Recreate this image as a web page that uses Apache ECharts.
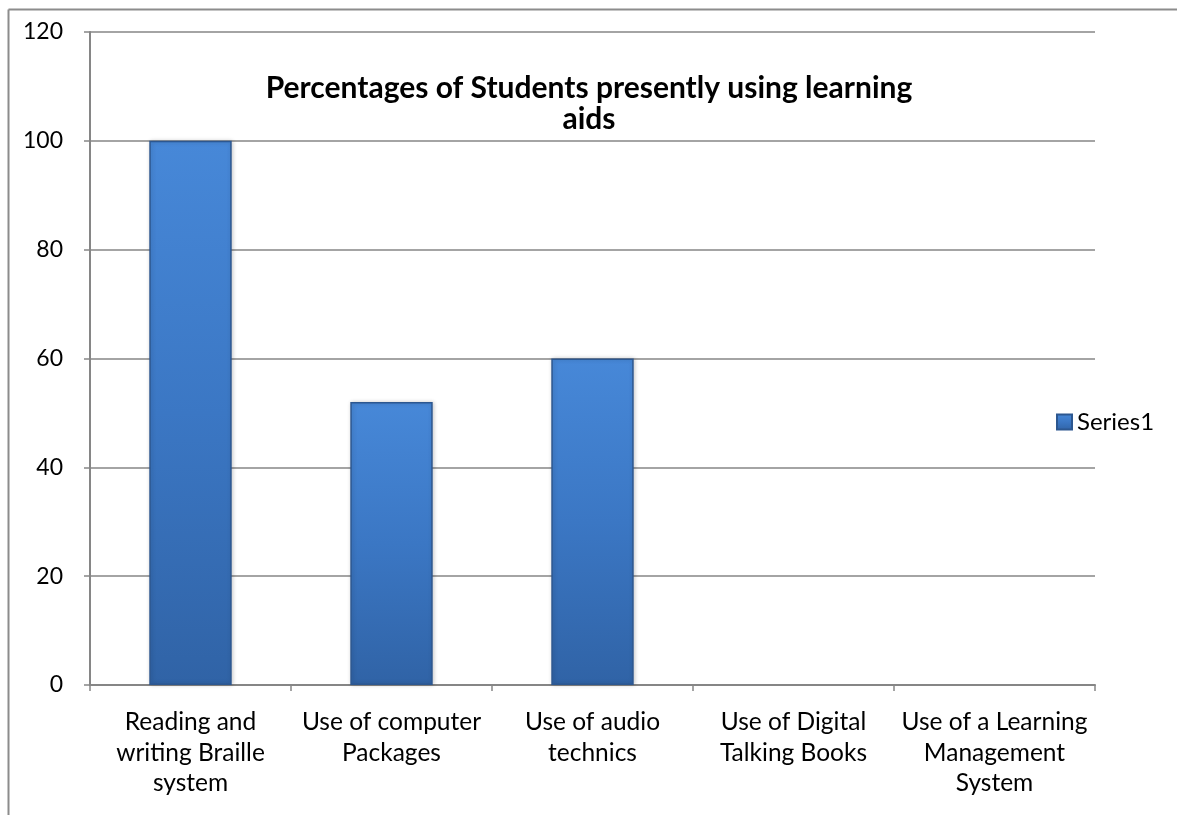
<!DOCTYPE html>
<html>
<head>
<meta charset="utf-8">
<script src="https://cdn.jsdelivr.net/npm/echarts@6/dist/echarts.min.js"></script>
<style>
html,body{margin:0;padding:0;background:#fff;}
#chart{width:1177px;height:815px;}
</style>
</head>
<body>
<div id="chart"></div>
<script>
const categories = [
  "Reading and\nwriting Braille\nsystem",
  "Use of computer\nPackages",
  "Use of audio\ntechnics",
  "Use of Digital\nTalking Books",
  "Use of a Learning\nManagement\nSystem"
];
const seriesName = "Series1";
const values = [100, 52, 60, 0, 0];
const yTicks = { min: 0, max: 120, interval: 20 };
const titleText = "Percentages of Students presently using learning\naids";

const FONT = "Lato, 'Open Sans', 'Noto Sans', sans-serif";
const chart = echarts.init(document.getElementById('chart'), null, {renderer: 'canvas'});

const barColor = new echarts.graphic.LinearGradient(0, 0, 0, 1, [
  {offset: 0, color: '#4788d8'},
  {offset: 0.5, color: '#3b77c4'},
  {offset: 1, color: '#3063a6'}
]);

const barData = values.map(v => v === 0
  ? {value: v, itemStyle: {borderWidth: 0, opacity: 0}}
  : {value: v});

chart.setOption({
  animation: false,
  backgroundColor: '#fff',
  graphic: [
    {type: 'line', shape: {x1: 8.5, y1: 9.5, x2: 1177, y2: 9.5}, style: {stroke: '#8c8c8c', lineWidth: 2}},
    {type: 'line', shape: {x1: 8.5, y1: 9.5, x2: 8.5, y2: 815}, style: {stroke: '#8c8c8c', lineWidth: 2}}
  ],
  title: {
    text: titleText,
    left: 584,
    textAlign: 'center',
    top: 68,
    textStyle: {fontFamily: FONT, fontSize: 30, fontWeight: 'bold', color: '#000', lineHeight: 31}
  },
  legend: {
    data: [seriesName],
    left: 1051,
    top: 405,
    orient: 'vertical',
    itemWidth: 15,
    itemHeight: 15,
    itemGap: 6,
    icon: 'rect',
    textStyle: {fontFamily: FONT, fontSize: 24, color: '#000'}
  },
  grid: {left: 90, right: 82, top: 32, bottom: 130, containLabel: false},
  xAxis: {
    type: 'category',
    data: categories,
    axisLine: {lineStyle: {color: '#868686', width: 2}},
    axisTick: {show: true, length: 6, alignWithLabel: false, lineStyle: {color: '#868686', width: 1.5}},
    axisLabel: {fontFamily: FONT, fontSize: 24.5, color: '#000', lineHeight: 30.5, margin: 22, interval: 0}
  },
  yAxis: {
    type: 'value',
    min: yTicks.min, max: yTicks.max, interval: yTicks.interval,
    axisLine: {show: true, lineStyle: {color: '#868686', width: 2}},
    axisTick: {show: true, length: 6, lineStyle: {color: '#868686', width: 1.5}},
    splitLine: {show: true, lineStyle: {color: '#868686', width: 1.5}},
    axisLabel: {fontFamily: FONT, fontSize: 23, color: '#000', margin: 27}
  },
  series: [{
    name: seriesName,
    type: 'bar',
    data: barData,
    barWidth: '41%',
    itemStyle: {color: barColor, borderColor: '#2c5790', borderWidth: 1.5,
      shadowColor: 'rgba(0,0,0,0.2)', shadowBlur: 4, shadowOffsetX: 1, shadowOffsetY: 0}
  }]
});
</script>
</body>
</html>
